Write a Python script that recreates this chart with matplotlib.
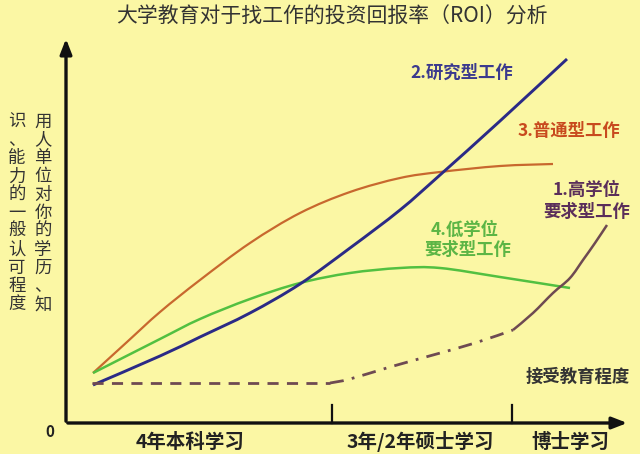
import matplotlib
matplotlib.use("Agg")
import matplotlib.pyplot as plt
from matplotlib.path import Path
from matplotlib.patches import PathPatch

plt.rcParams['font.family'] = ['Noto Sans CJK SC', 'DejaVu Sans']

# ---- data (x: distance along education axis, y: height above the x axis) ----
title = "大学教育对于找工作的投资回报率（ROI）分析"
ylabel_right = "用人单位对你的学历、知"
ylabel_left = "识、能力的一般认可程度"
stage_labels = ["4年本科学习", "3年/2年硕士学习", "博士学习"]
stage_centers = [124, 354, 504]
stage_ticks = [266, 446]

x_general = [27, 61, 94, 134, 184, 234, 284, 334, 374, 434, 487]
y_general = [50, 81, 111, 143, 180, 210, 231, 245, 251, 257, 259]

x_research = [27, 94, 134, 184, 234, 284, 334, 374, 434, 501]
y_research = [38, 67, 86, 110, 139, 175, 213, 248, 302, 364]

x_low = [27, 94, 134, 184, 234, 284, 334, 374, 434, 504]
y_low = [50, 84, 104, 124, 140, 150, 155, 155, 146, 135]

x_high_dash = [26, 264]
y_high_dash = [40, 40]
x_high_dashdot = [264, 284, 324, 367, 409, 447]
y_high_dashdot = [40, 44, 56, 68, 80, 93]
x_high_solid = [447, 467, 487, 504, 517, 529, 541]
y_high_solid = [93, 110, 130, 145, 163, 180, 198]

bg = "#fbf7a4"
c_blue = "#2b2a86"
c_orange = "#c8682e"
c_green = "#52c041"
c_high = "#6e4a52"


def smooth_curve(ax, xs, ys, **kw):
    """Draw a smooth (Catmull-Rom style Bezier) path through the read points."""
    pts = list(zip(xs, ys))
    n = len(pts)
    verts = [pts[0]]
    codes = [Path.MOVETO]
    for i in range(n - 1):
        p0 = pts[i - 1] if i > 0 else pts[i]
        p1 = pts[i]
        p2 = pts[i + 1]
        p3 = pts[i + 2] if i + 2 < n else pts[i + 1]
        c1 = (p1[0] + (p2[0] - p0[0]) / 6.0, p1[1] + (p2[1] - p0[1]) / 6.0)
        c2 = (p2[0] - (p3[0] - p1[0]) / 6.0, p2[1] - (p3[1] - p1[1]) / 6.0)
        verts += [c1, c2, p2]
        codes += [Path.CURVE4] * 3
    patch = PathPatch(Path(verts, codes), fill=False, capstyle='butt', **kw)
    ax.add_patch(patch)


fig = plt.figure(figsize=(6.4, 4.54), dpi=100, facecolor=bg)
ax = fig.add_axes([0, 0, 1, 1])
ax.set_facecolor(bg)
ax.set_xlim(-66, 574)
ax.set_ylim(-31, 423)
ax.axis('off')

# axes arrows
ax.annotate("", xy=(564, 0), xytext=(-1, 0),
            arrowprops=dict(arrowstyle="-|>,head_length=0.9,head_width=0.35", lw=2.4, color="#111111"))
ax.annotate("", xy=(0, 387), xytext=(0, -1),
            arrowprops=dict(arrowstyle="-|>,head_length=0.9,head_width=0.35", lw=2.4, color="#111111"))
for t in stage_ticks:
    ax.plot([t, t], [0, 18], color="#111111", lw=1.6)

# curves
smooth_curve(ax, x_general, y_general, edgecolor=c_orange, lw=1.6)
smooth_curve(ax, x_low, y_low, edgecolor=c_green, lw=1.8)
smooth_curve(ax, x_research, y_research, edgecolor=c_blue, lw=2.1)
ax.plot(x_high_dash, y_high_dash, color=c_high, lw=2.0, linestyle=(0, (4, 3)))
smooth_curve(ax, x_high_dashdot, y_high_dashdot, edgecolor=c_high, lw=2.0, linestyle=(0, (5, 3, 1, 3)))
smooth_curve(ax, x_high_solid, y_high_solid, edgecolor=c_high, lw=1.8)

# texts
ax.text(266, 406, title, ha='center', va='center', fontsize=15, color="#333333")
ax.text(-16, -9, "0", ha='center', va='center', fontsize=11, fontweight='bold', color="#222222")
for lab, cx in zip(stage_labels, stage_centers):
    ax.text(cx, -19, lab, ha='center', va='center', fontsize=14, fontweight='bold', color="#222222")

ax.text(-23, 210, "\n".join(ylabel_right), ha='center', va='center', fontsize=12.5,
        color="#333333", linespacing=1.02)
ax.text(-49, 210, "\n".join(ylabel_left), ha='center', va='center', fontsize=12.5,
        color="#333333", linespacing=1.02)

lab_kw = dict(ha='center', va='center', fontsize=12.5, fontweight='bold')
ax.text(396, 350, "2.研究型工作", color="#3b3a8e", **lab_kw)
ax.text(503, 292, "3.普通型工作", color="#c84a1e", **lab_kw)
ax.text(521, 233, "1.高学位", color="#5a2e5a", **lab_kw)
ax.text(521, 211, "要求型工作", color="#5a2e5a", **lab_kw)
ax.text(399, 193, "4.低学位", color="#5cb545", **lab_kw)
ax.text(402, 173, "要求型工作", color="#5cb545", **lab_kw)
ax.text(512, 46, "接受教育程度", ha='center', va='center', fontsize=12.5, fontweight='bold', color="#333333")

fig.savefig("out.png", dpi=100, facecolor=bg)
